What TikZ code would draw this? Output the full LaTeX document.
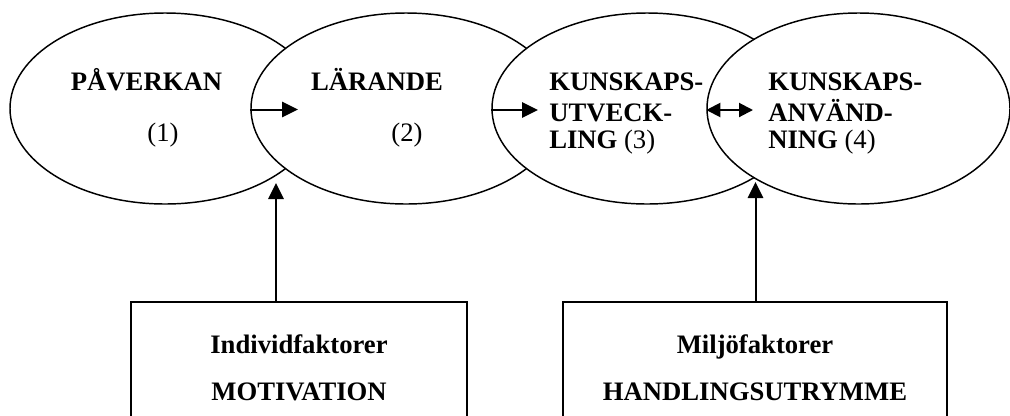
\documentclass[tikz,border=0pt]{standalone}
\usepackage{fontspec}
\setmainfont{Liberation Serif}
\usetikzlibrary{arrows.meta,shapes.geometric}
\begin{document}
\begin{tikzpicture}[x=0.75pt,y=-0.75pt,
  ell/.style={ellipse,draw,fill=white,line width=1.1pt,inner sep=0pt,minimum height=143.25pt},
  fbox/.style={rectangle,draw,line width=1.5pt,inner sep=0pt},
  btxt/.style={font=\bfseries\fontsize{20}{24}\selectfont,inner sep=0pt},
  rtxt/.style={font=\fontsize{20}{24}\selectfont,inner sep=0pt},
  arr/.style={line width=1.5pt,-{Triangle[length=12pt,width=11.5pt]}},
  darr/.style={line width=1.5pt,{Triangle[length=10.5pt,width=10.5pt]}-{Triangle[length=10.5pt,width=10.5pt]}}]
\useasboundingbox (0,0) rectangle (1010,415);
\clip (0,0) rectangle (1010,415);
% ellipses
\node[ell,minimum width=232.5pt] (e1) at (165,108.5) {};
\node[ell,minimum width=232.5pt] (e2) at (406,108.5) {};
\node[ell,minimum width=232.5pt] (e3) at (647,108.5) {};
\node[ell,minimum width=227.25pt] (e4) at (858.5,108.5) {};
% ellipse texts
\node[btxt,anchor=base] (t1) at (146.5,90) {PÅVERKAN};
\node[rtxt,anchor=base] (n1) at (163,141) {(1)};
\node[btxt,anchor=base] (t2) at (377,90) {LÄRANDE};
\node[rtxt,anchor=base] (n2) at (407,141) {(2)};
\node[btxt,anchor=base west] (t3a) at (549,90) {KUNSKAPS-};
\node[btxt,anchor=base west] (t3b) at (549,121) {UTVECK-};
\node[btxt,anchor=base west] (t3c) at (549,148) {LING \textmd{(3)}};
\node[btxt,anchor=base west] (t4a) at (768,90) {KUNSKAPS-};
\node[btxt,anchor=base west] (t4b) at (768,121) {ANVÄND-};
\node[btxt,anchor=base west] (t4c) at (768,148) {NING \textmd{(4)}};
% boxes
\node[fbox,minimum width=252pt,minimum height=90pt] (b1) at (299,362) {};
\node[fbox,minimum width=288pt,minimum height=90pt] (b2) at (755,362) {};
\node[btxt,anchor=base] (b1a) at (299,353) {Individfaktorer};
\node[btxt,anchor=base] (b1b) at (299,400) {MOTIVATION};
\node[btxt,anchor=base] (b2a) at (755,353) {Miljöfaktorer};
\node[btxt,anchor=base] (b2b) at (755,400) {HANDLINGSUTRYMME};
% arrow tips
\coordinate (p1) at (298,109.5);
\coordinate (p2) at (538,110);
\coordinate (p3) at (753,110);
\coordinate (v1) at (276,183);
\coordinate (v2) at (755.5,182);
% connectors
\draw[arr] (e2.west |- p1) -- (p1);
\draw[arr] (e3.west |- p2) -- (p2);
\draw[darr] (e4.west |- p3) -- (p3);
\draw[arr] (b1.north -| v1) -- (v1);
\draw[arr] (b2.north -| v2) -- (v2);
\end{tikzpicture}
\end{document}
